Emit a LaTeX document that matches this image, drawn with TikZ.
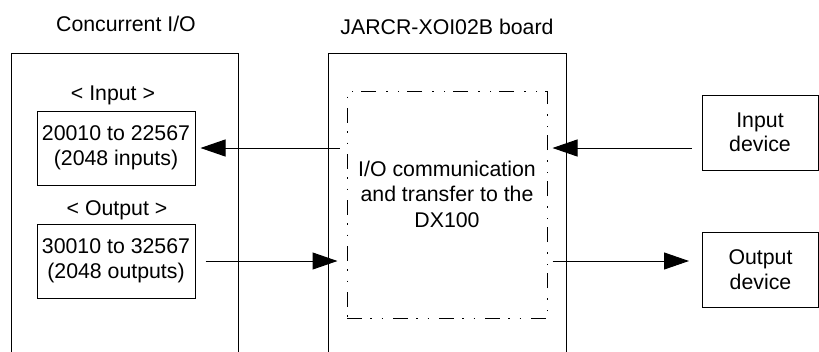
\documentclass[tikz,border=0pt]{standalone}
\usepackage{fontspec}
\setmainfont{Liberation Sans}
\usetikzlibrary{arrows.meta}
\tikzset{
  txt/.style={font=\fontsize{21.3}{24.5}\selectfont, align=center, inner sep=0pt},
  frame/.style={draw, line width=1pt, inner sep=0pt, anchor=north west},
  regbox/.style={txt, draw, line width=1pt, minimum width=158pt, minimum height=74pt},
  devbox/.style={txt, draw, line width=1pt, minimum width=116pt, minimum height=75pt},
  ddbox/.style={draw, line width=1pt, inner sep=0pt, minimum width=200pt, minimum height=227pt,
    dash pattern=on 15pt off 8pt on 1.5pt off 10pt on 1.5pt off 10pt},
  arr/.style={line width=1pt, -{Triangle[length=25pt,width=17pt]}}
}
\begin{document}
\begin{tikzpicture}[x=1pt,y=-1pt]
\useasboundingbox (0,0) rectangle (819,351);
\clip (0,0) rectangle (819,351);
% big frames (open at bottom, cut by the page)
\node[frame, minimum width=227pt, minimum height=330pt] (cio) at (11,53) {};
\node[frame, minimum width=238pt, minimum height=330pt] (brd) at (328,53) {};
% titles
\node[txt, anchor=base] (ciot) at (126,31) {Concurrent I/O};
\node[txt, anchor=base] (brdt) at (447,34) {JARCR-XOI02B board};
% concurrent I/O contents
\node[txt, anchor=base] (inlab) at (113,100) {< Input >};
\node[regbox] (inbox) at (116,148) {20010 to 22567\\(2048 inputs)};
\node[txt, anchor=base] (outlab) at (117,215) {< Output >};
\node[regbox] (outbox) at (116,261) {30010 to 32567\\(2048 outputs)};
% board contents
\node[ddbox] (io) at (447,204.5) {};
\node[txt, font=\fontsize{21.3}{25.5}\selectfont] (iot) at (447,194) {I/O communication\\and transfer to the\\DX100};
% devices
\node[devbox] (indev) at (760,132.5) {Input\\device};
\node[devbox] (outdev) at (760.5,269.5) {Output\\device};
% connectors
\draw[arr, shorten <=7pt, shorten >=5pt] (io.west |- inbox.east) -- (inbox.east);
\draw[arr, shorten <=10pt, shorten >=5pt] (indev.west |- inbox.east) -- (io.east |- inbox.east);
\draw[arr, shorten <=10pt, shorten >=9pt] (outbox.east) -- (io.west |- outbox.east);
\draw[arr, shorten <=5pt, shorten >=13pt] (io.east |- outbox.east) -- (outdev.west |- outbox.east);
\end{tikzpicture}
\end{document}
